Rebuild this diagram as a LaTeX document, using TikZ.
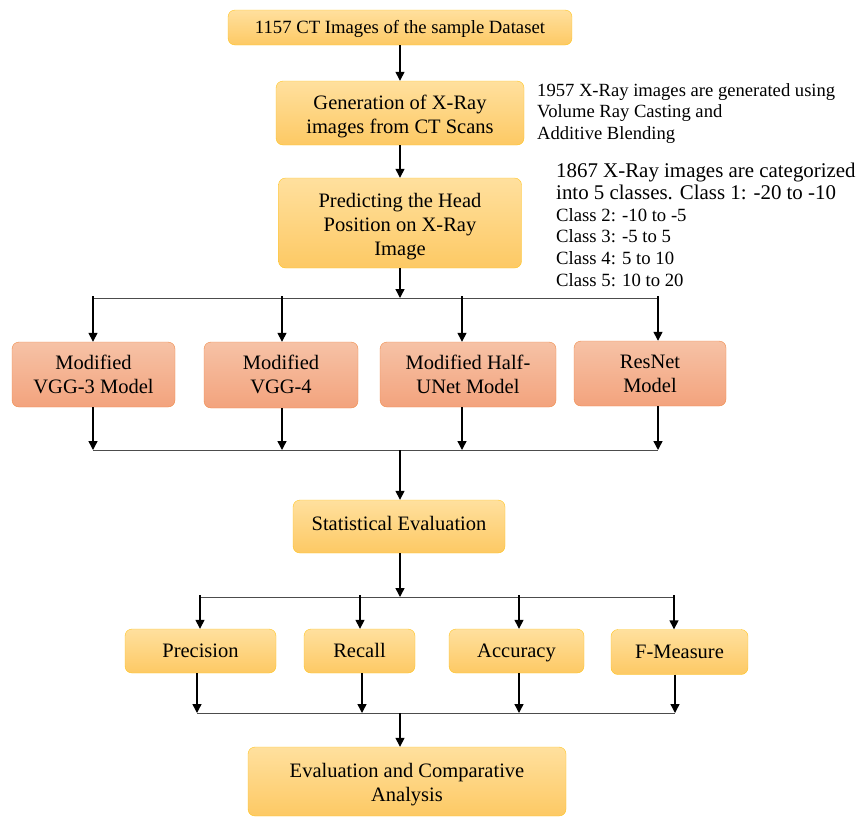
\documentclass[tikz,border=0pt]{standalone}
\usepackage{fontspec}
\setmainfont{Liberation Serif}
\usetikzlibrary{arrows.meta}
\definecolor{ytop}{RGB}{255,224,158}
\definecolor{ybot}{RGB}{253,201,100}
\definecolor{yedge}{RGB}{255,196,30}
\definecolor{stop}{RGB}{246,194,166}
\definecolor{sbot}{RGB}{243,163,125}
\definecolor{sedge}{RGB}{240,138,72}
\tikzset{
    yellow-box/.style = {draw=yedge, top color=ytop, bottom color=ybot, thin, rectangle, rounded corners=7pt, align=center, inner sep=2pt, font=\fontsize{20.5}{24}\selectfont},
    model-box/.style = {yellow-box, draw=sedge, top color=stop, bottom color=sbot},
    one-line/.style = {text height=18pt, text depth=5pt},
    two-line/.style = {text height=45pt, text depth=5pt},
    three-line/.style = {text height=69pt, text depth=5pt},
    side-note/.style = {anchor=north west, align=left, inner sep=0pt},
    flow-arrow/.style = {-{Triangle[length=9pt,width=9pt]}, line width=1.4pt},
    bus-line/.style = {draw=black!70, line width=1pt},
}
\begin{document}
\begin{tikzpicture}[x=1pt,y=-1pt]
\useasboundingbox (0,0) rectangle (858,817);
% main column
\node [yellow-box, one-line, text height=17pt, minimum width=344pt, minimum height=35pt, font=\fontsize{18.7}{22}\selectfont] (data) at (400,27.5) {1157 CT Images of the sample Dataset};
\node [yellow-box, two-line, minimum width=248pt, minimum height=64pt] (gen) at (400,113) {Generation of X-Ray\\images from CT Scans};
\node [yellow-box, three-line, minimum width=243pt, minimum height=90pt] (pred) at (400,223) {Predicting the Head\\Position on X-Ray\\Image};
% side notes
\node [side-note, font=\fontsize{18.6}{21.5}\selectfont] (note-gen) at (537,83) {1957 X-Ray images are generated using\\Volume Ray Casting and\\Additive Blending};
\node [side-note, font=\fontsize{18.7}{21.7}\selectfont] (note-cls) at (556,163) {{\fontsize{20.9}{23.3}\selectfont 1867 X-Ray images are categorized}\\{\fontsize{20.9}{23.3}\selectfont into 5 classes. Class 1: -20 to -10}\\Class 2: -10 to -5\\Class 3: -5 to 5\\Class 4: 5 to 10\\Class 5: 10 to 20};
% models
\node [model-box, two-line, text height=42pt, minimum width=163pt, minimum height=65pt] (vgg3) at (93.5,374.5) {Modified\\VGG-3 Model};
\node [model-box, two-line, text height=42pt, minimum width=154pt, minimum height=66pt] (vgg4) at (281,375) {Modified\\VGG-4};
\node [model-box, two-line, text height=42pt, minimum width=176pt, minimum height=65pt] (hunet) at (468,374.5) {Modified Half-\\UNet Model};
\node [model-box, two-line, text height=42pt, minimum width=152pt, minimum height=65pt] (resnet) at (650,373.5) {ResNet\\Model};
% evaluation
\node [yellow-box, one-line, text height=12pt, minimum width=212pt, minimum height=53pt] (stat) at (399,526.5) {Statistical Evaluation};
\node [yellow-box, one-line, minimum width=151pt, minimum height=44pt] (prec) at (200.5,651) {Precision};
\node [yellow-box, one-line, minimum width=111pt, minimum height=44pt] (recall) at (359.5,651) {Recall};
\node [yellow-box, one-line, minimum width=135pt, minimum height=44pt] (acc) at (516.5,651) {Accuracy};
\node [yellow-box, one-line, minimum width=137pt, minimum height=45pt] (fmeas) at (679.5,652) {F-Measure};
\node [yellow-box, two-line, text height=44pt, minimum width=318pt, minimum height=69pt] (final) at (407,781.5) {Evaluation and Comparative\\Analysis};
% bus coordinates
\coordinate (split1) at (400,298);
\coordinate (s1) at (93,298);
\coordinate (s2) at (282,298);
\coordinate (s3) at (462,298);
\coordinate (s4) at (658,298);
\coordinate (join1) at (400,450);
\coordinate (j1) at (93,450);
\coordinate (j2) at (282,450);
\coordinate (j3) at (462,450);
\coordinate (j4) at (658,450);
\coordinate (split2) at (400,597);
\coordinate (t1) at (200,597);
\coordinate (t2) at (360,597);
\coordinate (t3) at (519,597);
\coordinate (t4) at (674,597);
\coordinate (join2) at (400,713);
\coordinate (u1) at (197,713);
\coordinate (u2) at (362,713);
\coordinate (u3) at (519,713);
\coordinate (u4) at (675,713);
% connectors
\draw [flow-arrow] (data) -- (gen);
\draw [flow-arrow] (gen) -- (pred);
\draw [flow-arrow] (pred.south -| split1) -- (split1);
\draw [bus-line] (s1) -- (s4);
\foreach \s/\m in {s1/vgg3, s2/vgg4, s3/hunet, s4/resnet}
    \draw [flow-arrow] ([yshift=2pt]\s) -- (\s |- \m.north);
\foreach \j/\m in {j1/vgg3, j2/vgg4, j3/hunet, j4/resnet}
    \draw [flow-arrow] (\j |- \m.south) -- (\j);
\draw [bus-line] (j1) -- (j4);
\draw [flow-arrow] (join1) -- (stat.north -| join1);
\draw [flow-arrow] (stat.south -| split2) -- (split2);
\draw [bus-line] (t1) -- (t4);
\foreach \t/\m in {t1/prec, t2/recall, t3/acc, t4/fmeas}
    \draw [flow-arrow] ([yshift=2pt]\t) -- (\t |- \m.north);
\foreach \u/\m in {u1/prec, u2/recall, u3/acc, u4/fmeas}
    \draw [flow-arrow] (\u |- \m.south) -- (\u);
\draw [bus-line] (u1) -- (u4);
\draw [flow-arrow] (join2) -- (final.north -| join2);
\end{tikzpicture}
\end{document}
